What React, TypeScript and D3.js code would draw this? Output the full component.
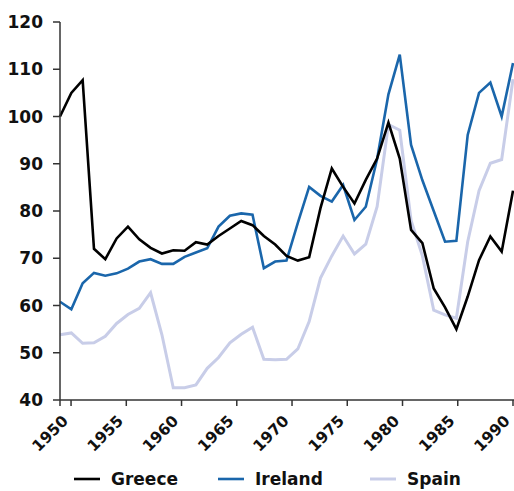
import React from "react";
import * as d3 from "d3";

const years: number[] = d3.range(1950, 1991);
const tickYears: number[] = [1950, 1955, 1960, 1965, 1970, 1975, 1980, 1985, 1990];
const yTicks: number[] = [40, 50, 60, 70, 80, 90, 100, 110, 120];

const greece: number[] = [
  100, 105.0, 107.7, 72.0, 69.8, 74.2, 76.7, 74.0, 72.2, 71.0,
  71.7, 71.6, 73.4, 72.9, 74.7, 76.3, 77.9, 77.0, 74.7, 72.9,
  70.5, 69.5, 70.2, 80.6, 89.0, 85.1, 81.6, 86.6, 91.1, 98.7,
  91.1, 76.0, 73.2, 63.6, 59.6, 55.0, 61.9, 69.6, 74.6, 71.4,
  84.3,
];
const ireland: number[] = [
  60.8, 59.2, 64.7, 66.9, 66.3, 66.8, 67.8, 69.3, 69.8, 68.8,
  68.8, 70.3, 71.2, 72.1, 76.7, 79.0, 79.5, 79.2, 67.9, 69.3,
  69.5, 77.5, 85.1, 83.2, 82.0, 85.5, 78.1, 80.9, 91.0, 104.7,
  113.1, 94.0, 86.5, 80.0, 73.5, 73.7, 96.1, 105.0, 107.2, 100.0,
  111.3,
];
const spain: number[] = [
  53.8, 54.2, 52.0, 52.1, 53.5, 56.2, 58.1, 59.4, 62.7, 53.8,
  42.6, 42.6, 43.2, 46.7, 49.0, 52.1, 53.9, 55.4, 48.6, 48.5,
  48.6, 50.8, 56.6, 65.8, 70.5, 74.7, 70.9, 73.0, 80.9, 98.3,
  97.1, 78.0, 70.5, 59.0, 58.0, 57.3, 73.5, 84.3, 90.1, 90.9,
  107.9,
];

const seriesNames = ["Greece", "Ireland", "Spain"];
const seriesColors = ["#000000", "#1a66ab", "#c8cde8"];
const seriesWidths = [2.6, 2.6, 3];

const W = 514;
const H = 491;
const left = 60;
const right = 513;
const top = 22;
const bottom = 400;
const font = "'DejaVu Sans', sans-serif";
const axisColor = "#333333";

export default function App() {
  const xData = d3.scaleLinear().domain([1950, 1990]).range([left, right]);
  const xAxis = d3.scaleLinear().domain([1949, 1990]).range([left, right]);
  const y = d3.scaleLinear().domain([40, 120]).range([bottom, top]);
  const allSeries = [greece, ireland, spain];
  const line = d3
    .line<number>()
    .x((_, i) => xData(years[i]))
    .y((d) => y(d));

  const legendX = [74, 218, 370];

  return (
    <svg
      width={W}
      height={H}
      style={{ position: "absolute", left: 0, top: 0, background: "#fff" }}
    >
      {allSeries
        .map((s, i) => (
          <path
            key={seriesNames[i]}
            d={line(s) || ""}
            fill="none"
            stroke={seriesColors[i]}
            strokeWidth={seriesWidths[i]}
            strokeLinejoin="miter"
          />
        ))
        .reverse()}
      <line x1={left} x2={left} y1={top} y2={bottom + 6} stroke={axisColor} strokeWidth={1.5} />
      {yTicks.map((t) => (
        <g key={t}>
          <line x1={left - 7} x2={left} y1={y(t)} y2={y(t)} stroke={axisColor} strokeWidth={1.5} />
          <text
            x={43}
            y={y(t)}
            dy="0.36em"
            textAnchor="end"
            fontFamily={font}
            fontWeight="bold"
            fontSize={17}
            fill="#111"
          >
            {t}
          </text>
        </g>
      ))}
      <line x1={left} x2={right + 1} y1={bottom} y2={bottom} stroke={axisColor} strokeWidth={1.5} />
      {tickYears.map((t) => (
        <g key={t}>
          <line x1={xAxis(t)} x2={xAxis(t)} y1={bottom} y2={bottom + 6} stroke={axisColor} strokeWidth={1.5} />
          <text
            transform={`translate(${xAxis(t) - 6},${bottom + 18}) rotate(-45)`}
            textAnchor="end"
            dy="0.36em"
            fontFamily={font}
            fontWeight="bold"
            fontSize={15.5}
            fill="#111"
          >
            {t}
          </text>
        </g>
      ))}
      {seriesNames.map((n, i) => (
        <g key={n}>
          <line
            x1={legendX[i]}
            x2={legendX[i] + 26}
            y1={479}
            y2={479}
            stroke={seriesColors[i]}
            strokeWidth={seriesWidths[i]}
          />
          <text
            x={legendX[i] + 37}
            y={479}
            dy="0.36em"
            fontFamily={font}
            fontWeight="bold"
            fontSize={17}
            fill="#111"
          >
            {n}
          </text>
        </g>
      ))}
    </svg>
  );
}
